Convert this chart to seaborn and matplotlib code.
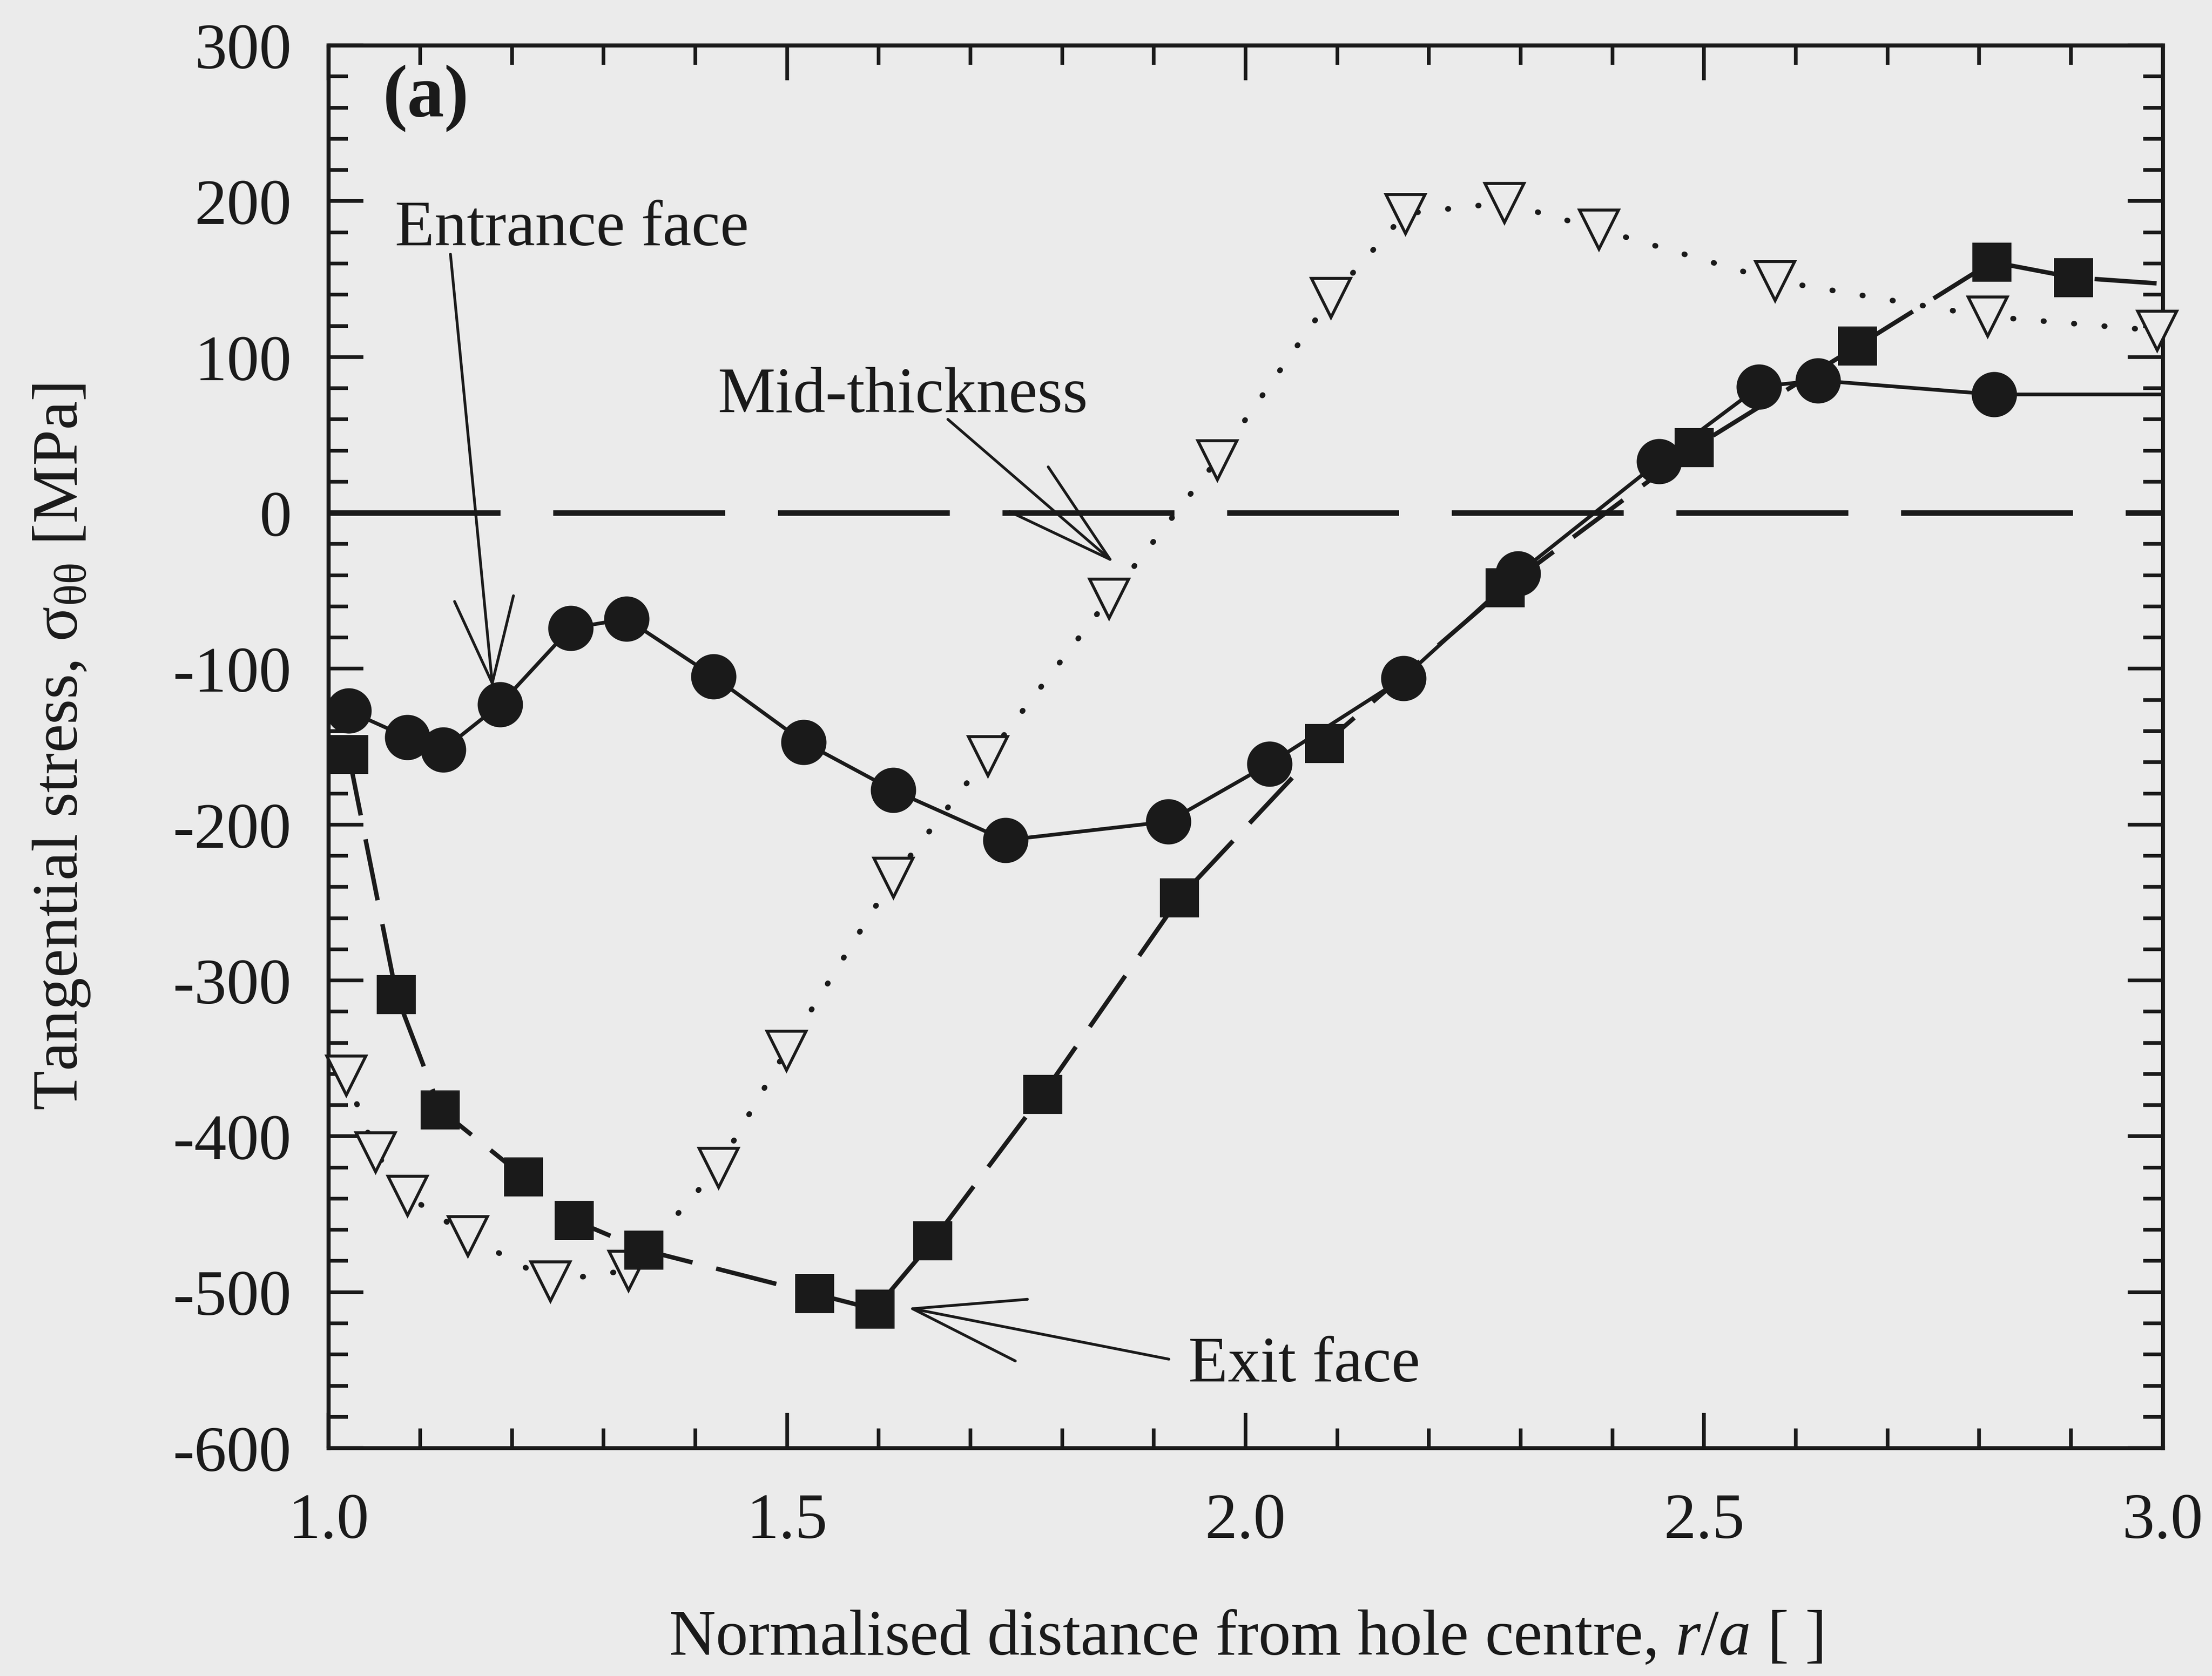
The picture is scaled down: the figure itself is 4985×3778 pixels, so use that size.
import matplotlib
matplotlib.use('Agg')
import matplotlib.pyplot as plt
import seaborn as sns
import pandas as pd
from matplotlib.ticker import MultipleLocator, FormatStrFormatter

# --- data (r/a, tangential stress in MPa) ---
r_entrance = [1.022, 1.086, 1.125, 1.187, 1.264, 1.325, 1.420, 1.518, 1.616, 1.738,
              1.916, 2.026, 2.172, 2.297, 2.451, 2.560, 2.624, 2.816, 3.000]
s_entrance = [-127, -144, -152, -123, -74, -68, -105, -147, -178, -210,
              -198, -161, -106, -39, 33, 81, 85, 76, 76]

r_exit = [1.022, 1.074, 1.122, 1.213, 1.268, 1.344, 1.530, 1.596, 1.659, 1.779,
          1.928, 2.086, 2.283, 2.489, 2.667, 2.814, 2.903, 3.000]
s_exit = [-155, -309, -383, -426, -454, -473, -501, -511, -467, -373,
          -247, -148, -48, 42, 107, 161, 151, 147]

r_mid = [1.019, 1.051, 1.086, 1.152, 1.242, 1.327, 1.425, 1.499, 1.616, 1.719,
         1.851, 1.969, 2.093, 2.174, 2.282, 2.385, 2.577, 2.809, 2.994]
s_mid = [-361, -410, -438, -464, -493, -486, -420, -345, -234, -156,
         -55, 34, 138, 192, 199, 182, 149, 126, 117]

x_ticks = [1.0, 1.5, 2.0, 2.5, 3.0]
y_ticks = [-600, -500, -400, -300, -200, -100, 0, 100, 200, 300]

sns.set_theme(style="ticks")
plt.rcParams['font.family'] = ['Liberation Serif', 'DejaVu Serif']
plt.rcParams['mathtext.fontset'] = 'custom'
plt.rcParams['mathtext.rm'] = 'Liberation Serif'
plt.rcParams['mathtext.it'] = 'Liberation Serif:italic'
plt.rcParams['mathtext.bf'] = 'Liberation Serif:bold'
plt.rcParams['axes.unicode_minus'] = False

BG = '#ebebeb'
INK = '#1a1a1a'
FS = 35

fig = plt.figure(figsize=(4985 / 300, 3779 / 300), dpi=300, facecolor=BG)
ax = fig.add_axes([0.1485, 0.136, 0.8292, 0.8367])
ax.set_facecolor(BG)

df_ent = pd.DataFrame({'r': r_entrance, 's': s_entrance})
df_exit = pd.DataFrame({'r': r_exit, 's': s_exit})
df_mid = pd.DataFrame({'r': r_mid, 's': s_mid})

# zero reference line
ax.axhline(0, color=INK, lw=3.0, linestyle=(0, (31, 9.5)), zorder=1)

# mid-thickness: open down triangles on a dotted line
sns.lineplot(data=df_mid, x='r', y='s', ax=ax, estimator=None, sort=False, legend=False,
             color=INK, lw=3.0, linestyle=(0, (0.1, 5.4)), dash_capstyle='round',
             marker='v', markersize=21, markerfacecolor=BG, markeredgecolor=INK,
             markeredgewidth=1.6, clip_on=False, zorder=3)

# exit face: filled squares on a long-dashed line
sns.lineplot(data=df_exit, x='r', y='s', ax=ax, estimator=None, sort=False, legend=False,
             color=INK, lw=2.4, linestyle=(0, (14, 5.5)),
             marker='s', markersize=20.5, markerfacecolor=INK, markeredgecolor=INK,
             markeredgewidth=0.5, markevery=list(range(len(r_exit) - 1)), zorder=4)

# entrance face: filled circles on a solid line
sns.lineplot(data=df_ent, x='r', y='s', ax=ax, estimator=None, sort=False, legend=False,
             color=INK, lw=2.0, linestyle='-',
             marker='o', markersize=24, markerfacecolor=INK, markeredgecolor=INK,
             markeredgewidth=0.5, markevery=list(range(len(r_entrance) - 1)), zorder=5)

ax.set_xlim(1.0, 3.0)
ax.set_ylim(-600, 300)
ax.set_xticks(x_ticks)
ax.set_yticks(y_ticks)
ax.xaxis.set_major_formatter(FormatStrFormatter('%.1f'))
ax.yaxis.set_major_formatter(FormatStrFormatter('%d'))
ax.xaxis.set_minor_locator(MultipleLocator(0.1))
ax.yaxis.set_minor_locator(MultipleLocator(20))
ax.tick_params(which='both', direction='in', top=True, right=True, colors=INK)
ax.tick_params(which='major', length=19, width=2.0, labelsize=FS)
ax.tick_params(which='minor', length=10.5, width=2.0)
ax.tick_params(axis='x', which='major', pad=24)
ax.tick_params(axis='y', which='major', pad=20)
for sp in ax.spines.values():
    sp.set_linewidth(2.2)
    sp.set_color(INK)

ax.set_xlabel('Normalised distance from hole centre, $\\mathit{r/a}$ [ ]', fontsize=FS, color=INK)
ax.set_ylabel('Tangential stress, σ$_{\\mathregular{θθ}}$ [MPa]', fontsize=FS, color=INK)
ax.xaxis.set_label_coords(0.5, -0.115)
ax.yaxis.set_label_coords(-0.129, 0.5)

# panel tag and annotations
ax.text(1.059, 266, '(a)', fontsize=40, fontweight='bold', va='center', ha='left', color=INK)
ax.text(1.0725, 172, 'Entrance face', fontsize=FS, va='baseline', ha='left', color=INK)
ax.text(1.4246, 65, 'Mid-thickness', fontsize=FS, va='baseline', ha='left', color=INK)
ax.text(1.9377, -557, 'Exit face', fontsize=FS, va='baseline', ha='left', color=INK)

ax.annotate('', xy=(1.179, -112), xytext=(1.133, 166),
            arrowprops=dict(arrowstyle='->,head_length=4.6,head_width=1.6', lw=1.5,
                            color=INK, shrinkA=0, shrinkB=0, mutation_scale=10))
ax.annotate('', xy=(1.8565, -32), xytext=(1.6754, 60),
            arrowprops=dict(arrowstyle='->,head_length=5.8,head_width=1.6', lw=1.5,
                            color=INK, shrinkA=0, shrinkB=0, mutation_scale=10))
ax.annotate('', xy=(1.6314, -510), xytext=(1.9164, -543),
            arrowprops=dict(arrowstyle='->,head_length=6.0,head_width=1.7', lw=1.5,
                            color=INK, shrinkA=0, shrinkB=0, mutation_scale=10))

fig.savefig('out.png', dpi=300, facecolor=BG)
plt.close(fig)
